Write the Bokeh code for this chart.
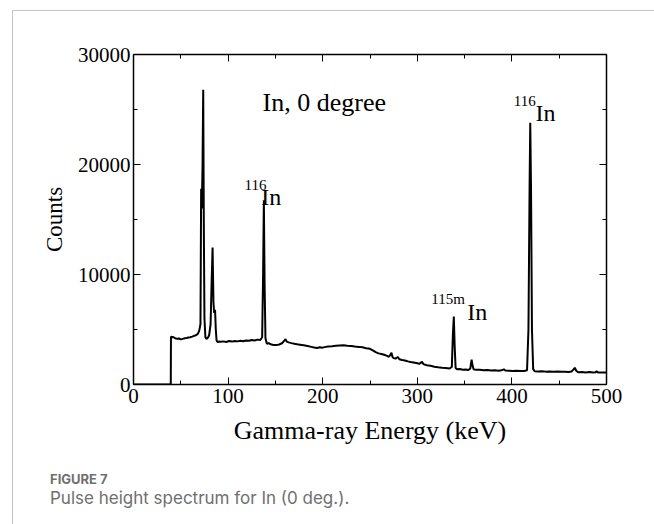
from bokeh.plotting import figure
from bokeh.layouts import column
from bokeh.models import (Range1d, LinearAxis, SingleIntervalTicker, Label, Div,
                          CustomJSTickFormatter, ColumnDataSource)
from bokeh.embed import file_html
from bokeh.resources import INLINE

# Measured pulse-height spectrum (energy in keV, counts per channel)
energy_kev = [
    0, 39.4, 39.6, 40, 41, 42, 44, 46, 48, 50, 52, 54, 56, 58, 60, 62, 64, 66, 68,
    69.5, 70.8, 71.5, 72.2, 73.0, 73.7, 74.3, 75, 76, 77, 78, 79, 80, 81.5, 82.5,
    83.6, 84.5, 85.3, 86.2, 87, 87.8, 89, 90, 92, 95, 98, 101, 104, 107, 110, 113,
    116, 119, 122, 125, 128, 131, 134, 136, 137, 137.8, 138.6, 139.5, 141, 143,
    145, 148, 151, 154, 157, 159, 160.7, 162, 164, 167, 170, 173, 176, 180, 184,
    188, 191, 194, 197, 200, 203, 206, 210, 214, 218, 222, 226, 230, 234, 238,
    242, 246, 250, 253, 256, 259, 262, 265, 268, 270, 271.5, 272.7, 273.8, 275,
    277, 278.5, 279.5, 281, 284, 287, 290, 293, 296, 299, 302, 305, 306.5, 310,
    314, 318, 322, 326, 330, 334, 336.5, 337.6, 338.6, 339.5, 340.5, 342, 345,
    348, 351, 354, 356, 357.4, 358.5, 359.5, 362, 366, 370, 374, 378, 382, 386,
    389, 391.5, 393, 397, 401, 405, 409, 413, 416, 417.5, 418.7, 419.4, 420.2,
    421.2, 422.5, 424, 428, 432, 436, 440, 444, 448, 452, 456, 460, 463, 465,
    466.5, 468, 470, 474, 478, 482, 486, 488.5, 489.5, 491, 495, 500,
]
counts = [
    0, 0, 4300, 4350, 4280, 4320, 4200, 4150, 4180, 4100, 4150, 4200, 4230, 4280,
    4300, 4350, 4420, 4480, 4600,
    4900, 5500, 17800, 16000, 20000, 26800, 15000, 6000, 4300, 4150, 4200, 4300,
    4500, 5500, 9000,
    12450, 7500, 6500, 6800, 5000, 4000, 3850, 3900, 3880, 3920, 3870, 3950, 3900,
    3960, 3920, 3980,
    3940, 4000, 3970, 4040, 4000, 4080, 4050, 4300, 10000, 16750, 9000, 4200,
    3700, 3760,
    3650, 3600, 3580, 3640, 3750, 3950, 4120, 3900, 3830, 3760, 3700, 3650, 3620,
    3560, 3500,
    3420, 3360, 3320, 3380, 3350, 3420, 3460, 3480, 3520, 3550, 3560, 3520, 3500,
    3450, 3420,
    3380, 3300, 3240, 3100, 2950, 2830, 2780, 2700, 2600, 2520, 2700, 2880, 2500,
    2400,
    2350, 2450, 2500, 2300, 2220, 2180, 2100, 2040, 2000, 1950, 1880, 2060, 1850,
    1750,
    1700, 1620, 1560, 1520, 1490, 1450, 1600, 4500, 6180, 3500, 1500, 1380, 1400,
    1350, 1370, 1320, 1450, 2250, 1700, 1380, 1330, 1340, 1300, 1320, 1280, 1300,
    1260,
    1290, 1380, 1270, 1250, 1230, 1260, 1220, 1230, 1300, 5000, 18000, 23800,
    18000,
    5000, 1400, 1200, 1180, 1210, 1170, 1190, 1160, 1180, 1150, 1170, 1140, 1180,
    1350,
    1520, 1250, 1120, 1140, 1100, 1130, 1090, 1120, 1200, 1100, 1090, 1080,
]

x_ticks_major = 100
y_ticks_major = 10000

SERIF = "Liberation Serif"
CAPTION_GREY = "#6f6f6f"

source = ColumnDataSource(data=dict(energy=energy_kev, counts=counts))

p = figure(width=641, height=450, output_backend="svg", toolbar_location=None,
           x_range=Range1d(0, 500), y_range=Range1d(0, 30000),
           min_border_left=120, min_border_right=48,
           min_border_top=43, min_border_bottom=77,
           background_fill_color="white", border_fill_color="white")
p.grid.visible = False
p.outline_line_color = None

p.line("energy", "counts", source=source, line_color="black", line_width=2)

blank = CustomJSTickFormatter(code="return ''")


def style_axis(ax, interval, label_size="23px"):
    ax.ticker = SingleIntervalTicker(interval=interval, num_minor_ticks=2)
    ax.axis_line_color = "black"
    ax.axis_line_width = 1.5
    ax.major_tick_in = 7
    ax.major_tick_out = 0
    ax.minor_tick_in = 4
    ax.minor_tick_out = 0
    ax.major_tick_line_color = "black"
    ax.minor_tick_line_color = "black"
    ax.major_label_text_font = SERIF
    ax.major_label_text_font_size = "21px"
    ax.major_label_text_font_style = "normal"
    ax.major_label_text_color = "black"
    ax.axis_label_text_font = SERIF
    ax.axis_label_text_font_size = label_size
    ax.axis_label_text_font_style = "normal"
    ax.axis_label_text_color = "black"


xax = p.xaxis[0]
yax = p.yaxis[0]
xax.axis_label = "Gamma-ray Energy (keV)"
yax.axis_label = "Counts"
style_axis(xax, x_ticks_major, "26px")
style_axis(yax, y_ticks_major)
xax.major_label_standoff = 4
xax.axis_label_standoff = 10
yax.major_label_standoff = 3
yax.axis_label_standoff = 8

top_axis = LinearAxis(formatter=blank)
style_axis(top_axis, x_ticks_major)
p.add_layout(top_axis, "above")
right_axis = LinearAxis(formatter=blank)
style_axis(right_axis, y_ticks_major)
p.add_layout(right_axis, "right")

# in-plot annotations
p.add_layout(Label(x=136.4, y=25660, text="In, 0 degree", text_font=SERIF,
                   text_font_size="26px", text_baseline="alphabetic",
                   text_color="black"))


def nuclide(x_sup, y_sup, sup, x_sym, y_sym):
    p.add_layout(Label(x=x_sup, y=y_sup, text=sup, text_font=SERIF,
                       text_font_size="15px", text_baseline="alphabetic",
                       text_color="black"))
    p.add_layout(Label(x=x_sym, y=y_sym, text="In", text_font=SERIF,
                       text_font_size="24px", text_baseline="alphabetic",
                       text_color="black"))


nuclide(117.3, 18180, "116", 135.0, 17090)
nuclide(402.0, 25750, "116", 425.0, 24660)
nuclide(314.7, 7730, "115m", 352.7, 6570)

# figure caption under the chart
caption = Div(
    width=641, height=63,
    text=(f'<div style="margin:6px 0 0 32px;color:{CAPTION_GREY};font-family:Inter;">'
          '<div style="font-size:13px;line-height:15.6px;font-weight:700;">FIGURE 7</div>'
          '<div style="font-size:17px;line-height:20.4px;">'
          'Pulse height spectrum for In (0 deg.).</div></div>'),
)

# thin grey panel rule along the top and left edge of the figure card
page = column(p, caption, spacing=0,
              styles={"margin-left": "12px", "margin-top": "10px",
                      "border-left": "1px solid #c4c4c4",
                      "border-top": "1px solid #c4c4c4"})

open("out.html", "w").write(file_html(page, INLINE))
